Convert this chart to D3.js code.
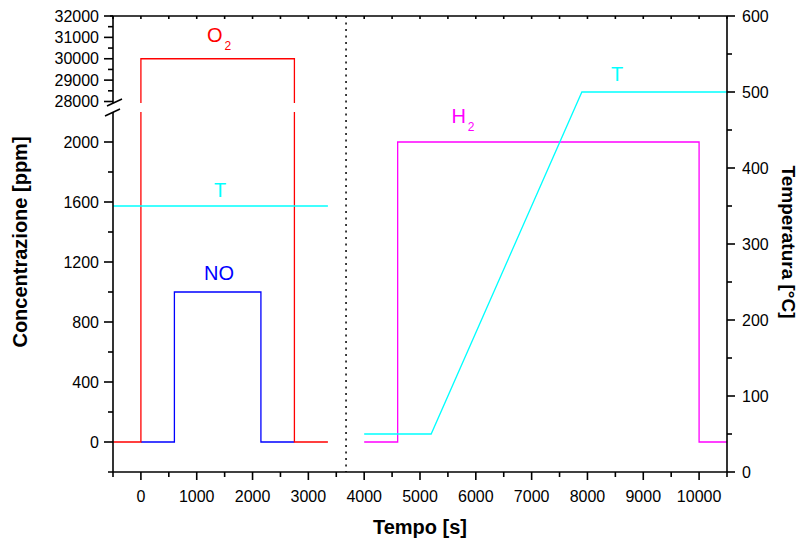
<!DOCTYPE html>
<html>
<head>
<meta charset="utf-8">
<script src="https://cdn.jsdelivr.net/npm/d3@7"></script>
<style>
  html, body { margin: 0; padding: 0; background: #fff; }
  svg { display: block; font-family: "Liberation Sans", Arial, sans-serif; }
</style>
</head>
<body>
<svg id="chart" width="802" height="541"></svg>
<script>
// ---------- data ----------
const o2Time   = [-500, 0, 0, 2750, 2750, 3350];
const o2Conc   = [0, 0, 30000, 30000, 0, 0];
const noTime   = [0, 600, 600, 2150, 2150, 2750];
const noConc   = [0, 0, 1000, 1000, 0, 0];
const h2Time   = [4000, 4600, 4600, 10000, 10000, 10500];
const h2Conc   = [0, 0, 2000, 2000, 0, 0];
const tLeftTime  = [-500, 3350];
const tLeftTemp  = [350, 350];
const tRightTime = [4000, 5200, 7900, 10500];
const tRightTemp = [50, 50, 500, 500];
const dividerTime = 3675;

const timeMajorTicks = [0, 1000, 2000, 3000, 4000, 5000, 6000, 7000, 8000, 9000, 10000];
const timeMinorTicks = [-500, 500, 1500, 2500, 3500, 4500, 5500, 6500, 7500, 8500, 9500, 10500];
const concLowMajor  = [0, 400, 800, 1200, 1600, 2000];
const concLowMinor  = [200, 600, 1000, 1400, 1800];
const concHighMajor = [28000, 29000, 30000, 31000, 32000];
const concHighMinor = [28500, 29500, 30500, 31500];
const tempMajor = [0, 100, 200, 300, 400, 500, 600];
const tempMinor = [50, 150, 250, 350, 450, 550];

// label annotations (data coordinates)
const seriesLabels = [
  { main: "O", sub: "2", t: 1400, v: 30800, axis: "conc", color: "#ff0000" },
  { main: "T", sub: "",  t: 1420, v: 362,   axis: "temp", color: "#00ffff" },
  { main: "NO", sub: "", t: 1400, v: 1080,  axis: "conc", color: "#0000ff" },
  { main: "H", sub: "2", t: 5770, v: 2125,  axis: "conc", color: "#ff00ff" },
  { main: "T", sub: "",  t: 8530, v: 514,   axis: "temp", color: "#00ffff" }
];

// ---------- layout ----------
const L = 113, R = 727, T = 16, B = 472;
const breakTop = 103, breakBot = 112;

const svg = d3.select("#chart");

const x = d3.scaleLinear().domain([-500, 10500]).range([L, R]);
const yLow = d3.scaleLinear().domain([-200, 2200]).range([B, 112]);
const yHigh = d3.scaleLinear().domain([28000, 32000]).range([101.5, T]);
const yConc = v => (v <= 2200 ? yLow(v) : yHigh(v));
const yTemp = d3.scaleLinear().domain([0, 600]).range([B, T]);

// clip for the broken axis (O2 line)
const defs = svg.append("defs");
const cp = defs.append("clipPath").attr("id", "breakClip");
cp.append("rect").attr("x", 0).attr("y", 0).attr("width", 802).attr("height", breakTop);
cp.append("rect").attr("x", 0).attr("y", breakBot).attr("width", 802).attr("height", 541 - breakBot);

const lineConc = d3.line().x(d => x(d[0])).y(d => yConc(d[1]));
const lineTemp = d3.line().x(d => x(d[0])).y(d => yTemp(d[1]));
const zip = (a, b) => a.map((v, i) => [v, b[i]]);

// ---------- series ----------
const g = svg.append("g");
g.append("path").attr("d", lineConc(zip(noTime, noConc)))
  .attr("fill", "none").attr("stroke", "#0000ff").attr("stroke-width", 1.3);
g.append("path").attr("d", lineConc(zip(o2Time, o2Conc)))
  .attr("fill", "none").attr("stroke", "#ff0000").attr("stroke-width", 1.3)
  .attr("clip-path", "url(#breakClip)");
g.append("path").attr("d", lineConc(zip(h2Time, h2Conc)))
  .attr("fill", "none").attr("stroke", "#ff00ff").attr("stroke-width", 1.3);
g.append("path").attr("d", lineTemp(zip(tLeftTime, tLeftTemp)))
  .attr("fill", "none").attr("stroke", "#00ffff").attr("stroke-width", 1.3);
g.append("path").attr("d", lineTemp(zip(tRightTime, tRightTemp)))
  .attr("fill", "none").attr("stroke", "#00ffff").attr("stroke-width", 1.3);

// divider
svg.append("line")
  .attr("x1", x(dividerTime)).attr("x2", x(dividerTime))
  .attr("y1", T).attr("y2", B)
  .attr("stroke", "#000").attr("stroke-width", 1.5)
  .attr("stroke-dasharray", "2,4.5");

// ---------- axes ----------
const axisColor = "#000";
const ax = svg.append("g").attr("stroke", axisColor).attr("stroke-width", 1.6);

// bottom axis
ax.append("line").attr("x1", L - 5).attr("x2", R).attr("y1", B).attr("y2", B);
ax.selectAll(".bmaj").data(timeMajorTicks).enter().append("line")
  .attr("x1", d => x(d)).attr("x2", d => x(d)).attr("y1", B).attr("y2", B + 8);
ax.selectAll(".bmin").data(timeMinorTicks).enter().append("line")
  .attr("x1", d => x(d)).attr("x2", d => x(d)).attr("y1", B).attr("y2", B + 5);
// top axis
ax.append("line").attr("x1", L - 3).attr("x2", R).attr("y1", T).attr("y2", T);
ax.selectAll(".tmaj").data(timeMajorTicks.concat(timeMinorTicks)).enter().append("line")
  .attr("x1", d => x(d)).attr("x2", d => x(d)).attr("y1", T).attr("y2", T + 3);

// left axis (broken)
ax.append("line").attr("x1", L).attr("x2", L).attr("y1", T).attr("y2", breakTop);
ax.append("line").attr("x1", L).attr("x2", L).attr("y1", breakBot).attr("y2", B);
ax.selectAll(".lmaj").data(concLowMajor).enter().append("line")
  .attr("x1", L - 9).attr("x2", L).attr("y1", d => yLow(d)).attr("y2", d => yLow(d));
ax.selectAll(".lmin").data(concLowMinor).enter().append("line")
  .attr("x1", L - 5).attr("x2", L).attr("y1", d => yLow(d)).attr("y2", d => yLow(d));
ax.selectAll(".hmaj").data(concHighMajor).enter().append("line")
  .attr("x1", L - 9).attr("x2", L).attr("y1", d => yHigh(d)).attr("y2", d => yHigh(d));
ax.selectAll(".hmin").data(concHighMinor).enter().append("line")
  .attr("x1", L - 5).attr("x2", L).attr("y1", d => yHigh(d)).attr("y2", d => yHigh(d));
// break slashes
ax.append("line").attr("x1", L - 6).attr("y1", breakTop + 3).attr("x2", L + 9).attr("y2", breakTop - 4);
ax.append("line").attr("x1", L - 8).attr("y1", breakBot + 4).attr("x2", L + 7).attr("y2", breakBot - 3);

// right axis
ax.append("line").attr("x1", R).attr("x2", R).attr("y1", T).attr("y2", B);
ax.selectAll(".rmaj").data(tempMajor).enter().append("line")
  .attr("x1", R).attr("x2", R + 8).attr("y1", d => yTemp(d)).attr("y2", d => yTemp(d));
ax.selectAll(".rmin").data(tempMinor).enter().append("line")
  .attr("x1", R).attr("x2", R + 5).attr("y1", d => yTemp(d)).attr("y2", d => yTemp(d));

// tick labels
const tl = svg.append("g").attr("font-size", 16).attr("fill", "#000");
tl.selectAll(".bl").data(timeMajorTicks).enter().append("text")
  .attr("x", d => x(d)).attr("y", 502).attr("text-anchor", "middle").text(d => d);
tl.selectAll(".ll").data(concLowMajor).enter().append("text")
  .attr("x", L - 14).attr("y", d => yLow(d)).attr("dy", "0.35em")
  .attr("text-anchor", "end").text(d => d);
tl.selectAll(".hl").data(concHighMajor).enter().append("text")
  .attr("x", L - 14).attr("y", d => yHigh(d)).attr("dy", "0.35em")
  .attr("text-anchor", "end").text(d => d);
tl.selectAll(".rl").data(tempMajor).enter().append("text")
  .attr("x", R + 15).attr("y", d => yTemp(d)).attr("dy", "0.35em")
  .attr("text-anchor", "start").text(d => d);

// axis titles
svg.append("text").attr("x", (L + R) / 2).attr("y", 534)
  .attr("text-anchor", "middle").attr("font-weight", "bold").attr("font-size", 20)
  .text("Tempo [s]");
svg.append("text").attr("transform", "translate(27,242) rotate(-90)")
  .attr("text-anchor", "middle").attr("font-weight", "bold").attr("font-size", 20)
  .text("Concentrazione [ppm]");
svg.append("text").attr("transform", "translate(782,242) rotate(90)")
  .attr("text-anchor", "middle").attr("font-weight", "bold").attr("font-size", 19)
  .text("Temperatura [°C]");

// series labels
seriesLabels.forEach(s => {
  const px = x(s.t);
  const py = s.axis === "conc" ? yConc(s.v) : yTemp(s.v);
  const t = svg.append("text").attr("x", px).attr("y", py)
    .attr("text-anchor", "middle").attr("fill", s.color).attr("font-size", 20);
  t.append("tspan").text(s.main);
  if (s.sub) {
    t.append("tspan").attr("font-size", 12).attr("dx", 2).attr("dy", 8).text(s.sub);
  }
});
</script>
</body>
</html>
